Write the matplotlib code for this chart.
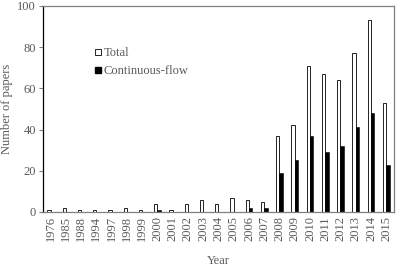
import matplotlib
matplotlib.use("Agg")
import matplotlib.pyplot as plt
import numpy as np
from matplotlib.lines import Line2D

years = ["1976", "1985", "1988", "1994", "1997", "1998", "1999", "2000", "2001",
         "2002", "2003", "2004", "2005", "2006", "2007", "2008", "2009", "2010",
         "2011", "2012", "2013", "2014", "2015"]
total = [1, 2, 1, 1, 1, 2, 1, 4, 1, 4, 6, 4, 7, 6, 5, 37, 42, 71, 67, 64, 77, 93, 53]
continuous = [0, 0, 0, 0, 0, 0, 0, 1, 0, 0, 0, 0, 0, 2, 2, 19, 25, 37, 29, 32, 41, 48, 23]

plt.rcParams["font.family"] = ["Liberation Serif", "DejaVu Serif"]
text_color = "#595959"
fs = 9

fig = plt.figure(figsize=(3.96, 2.68), dpi=100)
ax = fig.add_axes([0.1086, 0.209, 0.886, 0.769])

x = np.arange(len(years))
w = 0.22
ax.bar(x - w / 2, total, width=w, facecolor="white", edgecolor="black", linewidth=0.6)
ax.bar(x + w / 2, continuous, width=w, facecolor="black", edgecolor="black", linewidth=0.4)

ax.set_xlim(-0.5, len(years) - 0.5)
ax.set_ylim(0, 100)
ax.set_yticks(range(0, 101, 20))
ax.set_xticks(x)
ax.set_xticklabels(years, rotation=90)
ax.tick_params(axis="x", length=0, pad=3, labelsize=fs, labelcolor=text_color)
ax.tick_params(axis="y", length=3, width=0.8, color="#808080", pad=2,
               labelsize=fs, labelcolor=text_color)

ax.spines["left"].set_color("black")
ax.spines["left"].set_linewidth(0.9)
for side in ["top", "right", "bottom"]:
    ax.spines[side].set_color("#808080")
    ax.spines[side].set_linewidth(0.9)

ax.set_ylabel("Number of papers", fontsize=fs, color=text_color, labelpad=3)
ax.set_xlabel("Year", fontsize=fs, color=text_color, labelpad=10)

handles = [
    Line2D([], [], marker="s", linestyle="none", markersize=4.5,
           markerfacecolor="white", markeredgecolor="black", markeredgewidth=0.6),
    Line2D([], [], marker="s", linestyle="none", markersize=4.5,
           markerfacecolor="black", markeredgecolor="black"),
]
leg = ax.legend(handles, ["Total", "Continuous-flow"], loc="upper left",
                bbox_to_anchor=(0.115, 0.855), frameon=False, fontsize=fs,
                handlelength=0.6, handletextpad=0.15, labelspacing=0.5)
for t in leg.get_texts():
    t.set_color(text_color)

fig.savefig("out.png", dpi=100)
